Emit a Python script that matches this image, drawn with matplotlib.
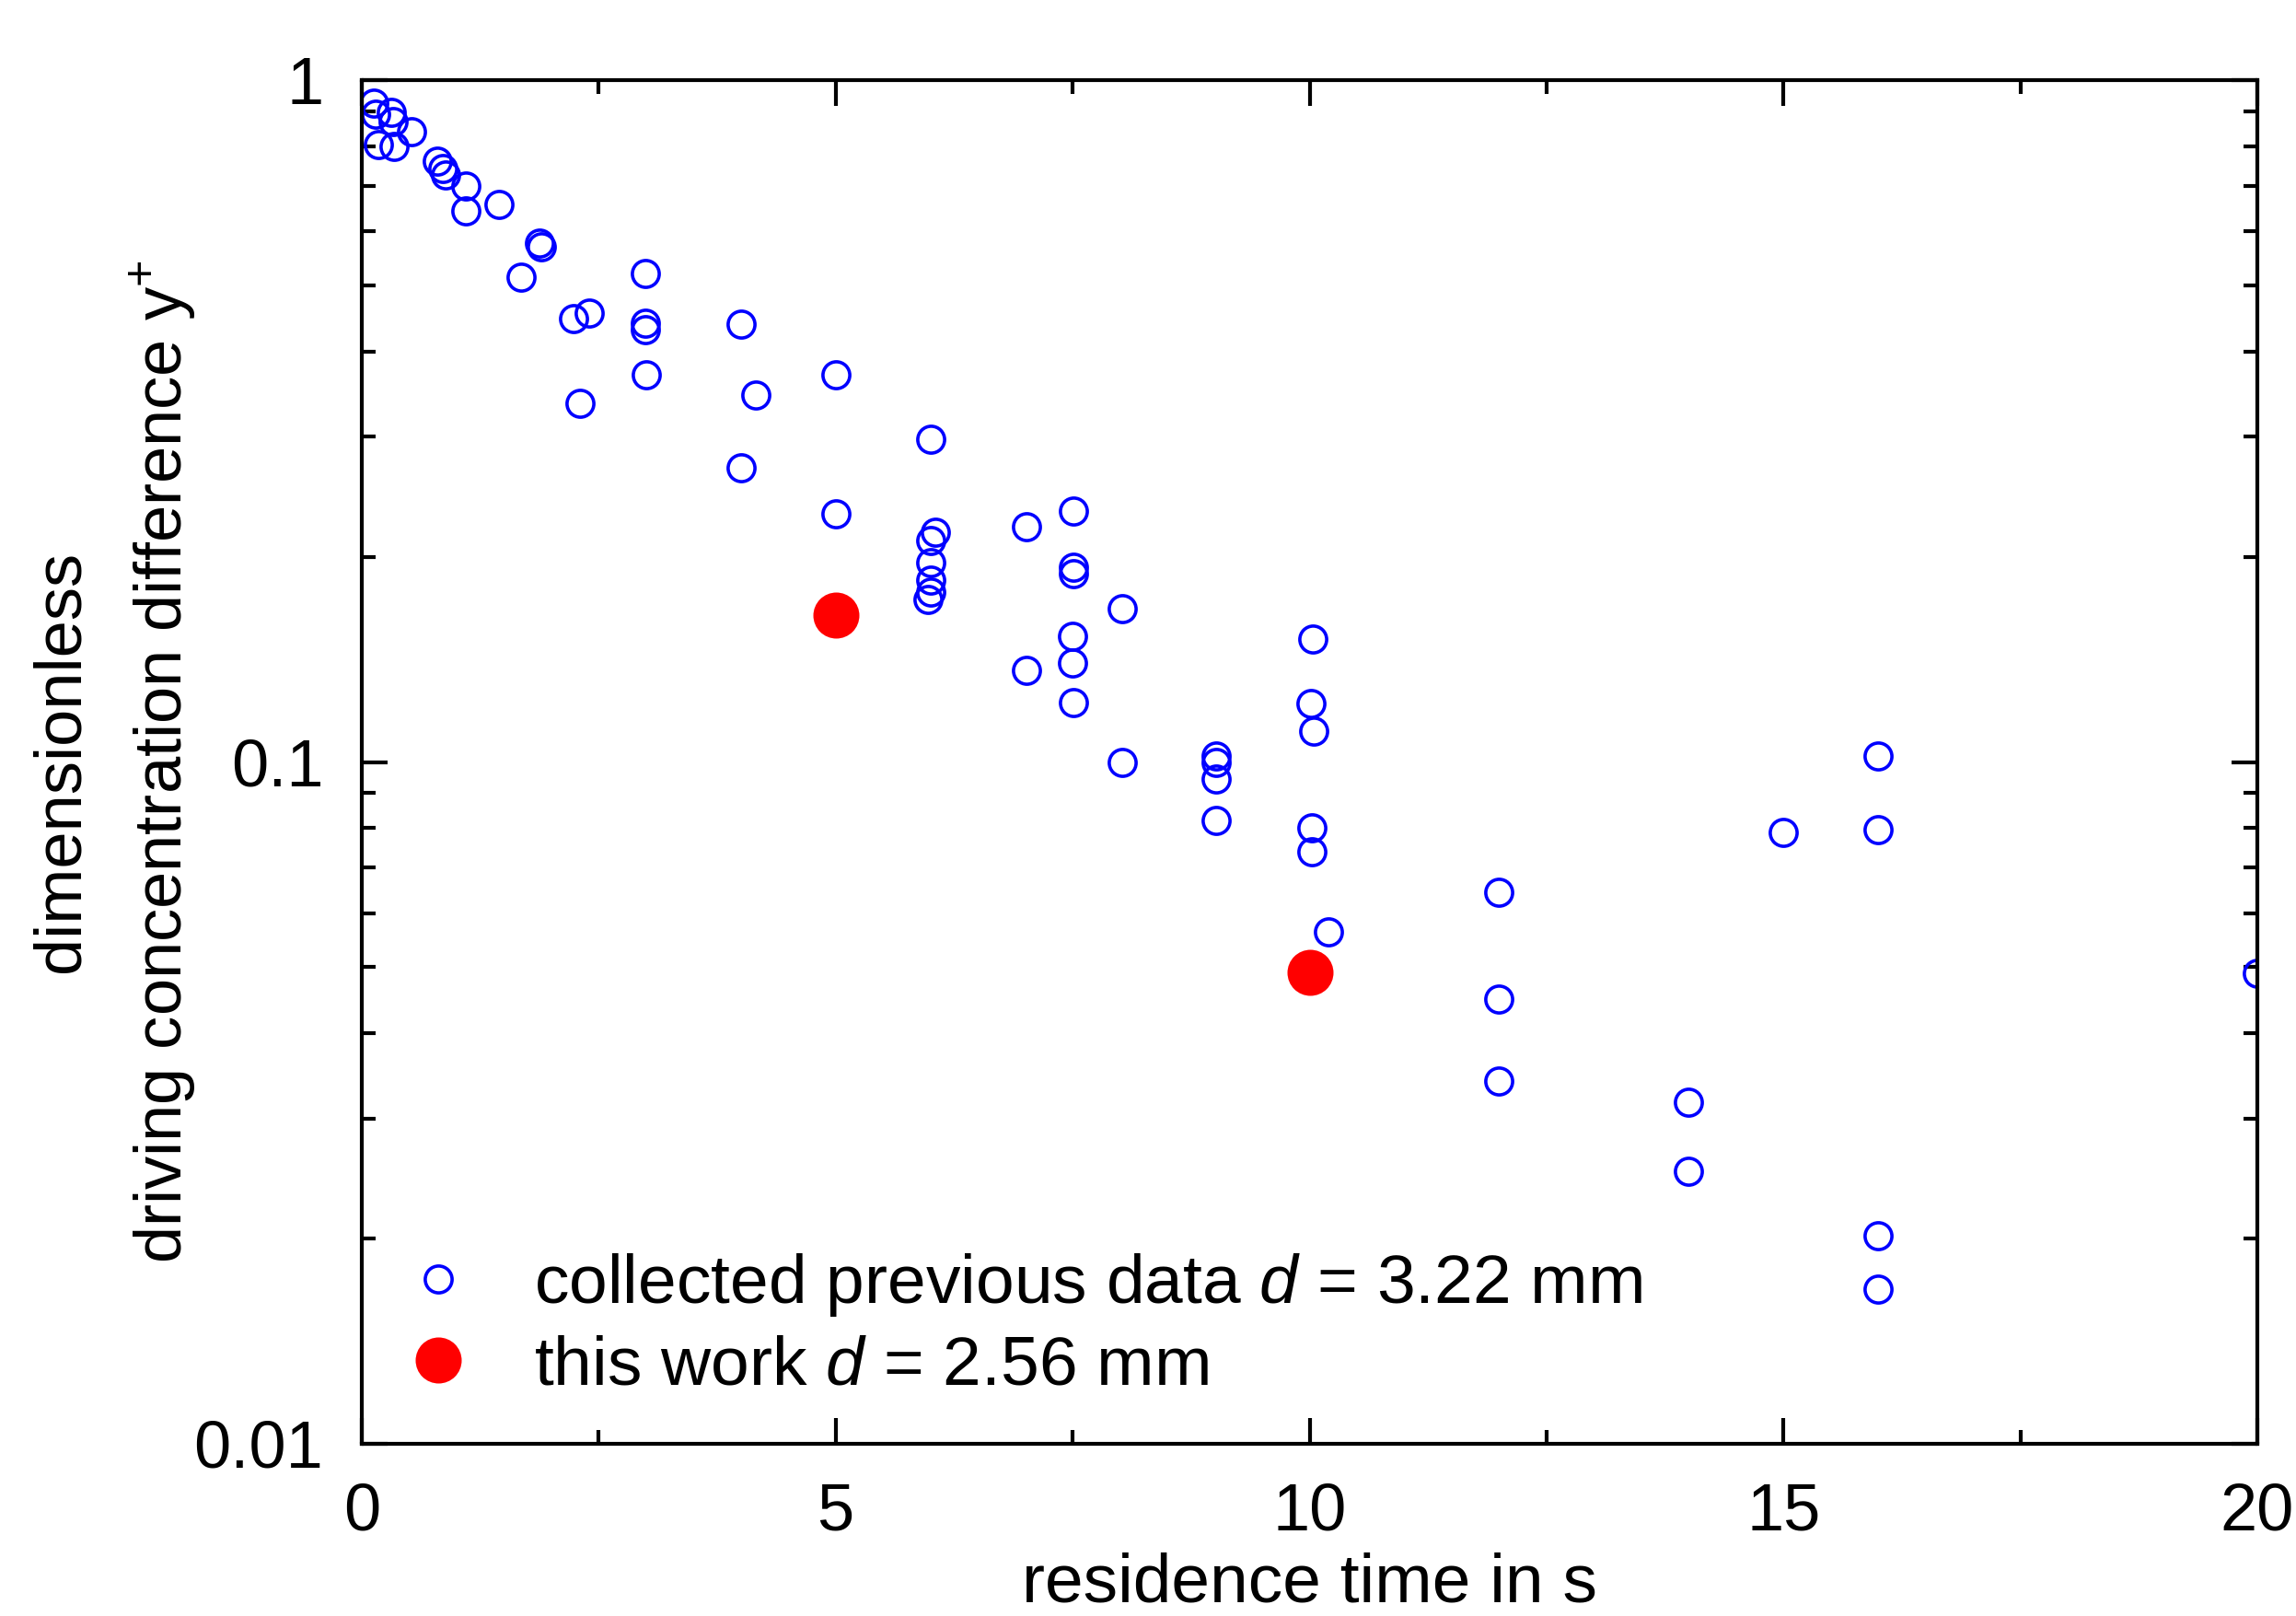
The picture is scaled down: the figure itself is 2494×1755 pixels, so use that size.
import matplotlib
matplotlib.use("Agg")
import matplotlib.pyplot as plt
from matplotlib.ticker import FixedLocator, LogLocator, NullFormatter, MultipleLocator

plt.rcParams['font.family'] = ['Liberation Sans', 'DejaVu Sans']
plt.rcParams['mathtext.fontset'] = 'custom'
plt.rcParams['mathtext.rm'] = 'Liberation Sans'
plt.rcParams['mathtext.it'] = 'Liberation Sans:italic'

# collected previous data, d = 3.22 mm
prev_t = [0.13, 0.15, 0.31, 0.33, 0.52, 0.17, 0.34, 0.80, 0.85, 0.88, 1.10, 1.10,
          1.45, 1.87, 1.89, 1.68, 2.23, 2.40, 2.99, 2.99, 2.99, 3.00, 2.30, 4.00,
          4.16, 4.00, 5.00, 5.00, 6.00, 6.05, 6.00, 6.00, 6.00, 6.00, 5.97, 7.01,
          7.51, 7.51, 7.51, 8.02, 7.50, 7.50, 7.01, 7.51, 8.02, 9.01, 9.01, 9.01,
          9.01, 10.03, 10.01, 10.04, 10.02, 10.02, 10.20, 12.0, 12.0, 12.0, 14.0,
          14.0, 15.0, 16.0, 16.0, 16.0, 16.0, 20.0]
prev_y = [0.925, 0.89, 0.898, 0.87, 0.84, 0.805, 0.80, 0.76, 0.741, 0.726, 0.70, 0.643,
          0.657, 0.577, 0.57, 0.514, 0.447, 0.456, 0.52, 0.44, 0.43, 0.37, 0.336, 0.438,
          0.345, 0.270, 0.37, 0.231, 0.297, 0.2175, 0.211, 0.196, 0.185, 0.1775, 0.173, 0.2215,
          0.233, 0.193, 0.189, 0.168, 0.1527, 0.1397, 0.1363, 0.1223, 0.0997, 0.1022, 0.100, 0.0945,
          0.082, 0.1514, 0.122, 0.111, 0.080, 0.0738, 0.0564, 0.0645, 0.0449, 0.034, 0.0317,
          0.0251, 0.0788, 0.102, 0.0796, 0.0202, 0.01686, 0.049]

# this work, d = 2.56 mm
this_t = [5.0, 10.0]
this_y = [0.164, 0.0492]

x_ticks = [0, 5, 10, 15, 20]
y_ticks = [0.01, 0.1, 1]
y_ticklabels = ['0.01', '0.1', '1']

fig = plt.figure(figsize=(24.94, 17.55), dpi=100)
ax = fig.add_axes([393/2494, 1 - 1568/1755, (2452-393)/2494, (1568-87)/1755])

ax.plot(prev_t, prev_y, linestyle='none', marker='o', markersize=21,
        markerfacecolor='none', markeredgecolor='#0000ff', markeredgewidth=2.6,
        label='collected previous data $d$ = 3.22 mm')
ax.plot(this_t, this_y, linestyle='none', marker='o', markersize=36,
        markerfacecolor='#ff0000', markeredgecolor='none',
        label='this work $d$ = 2.56 mm')

ax.set_yscale('log')
ax.set_xlim(0, 20)
ax.set_ylim(0.01, 1)
ax.xaxis.set_major_locator(FixedLocator(x_ticks))
ax.xaxis.set_minor_locator(MultipleLocator(2.5))
ax.yaxis.set_major_locator(FixedLocator(y_ticks))
ax.set_yticklabels(y_ticklabels)
ax.yaxis.set_minor_locator(LogLocator(base=10, subs=range(2, 10)))
ax.yaxis.set_minor_formatter(NullFormatter())

for s in ax.spines.values():
    s.set_linewidth(3)
ax.tick_params(which='both', direction='in', top=True, right=True, width=3,
               labelsize=52, pad=30)
ax.tick_params(which='major', length=20)
ax.tick_params(which='minor', length=11)

ax.set_xlabel('residence time in s', fontsize=54, labelpad=6)
yc = 1 - 827/1755
fig.text(67/2494, yc, 'dimensionless', rotation=90, ha='center', va='center', fontsize=52)
fig.text(178/2494, yc, 'driving concentration difference y$^{+}$', rotation=90,
         ha='center', va='center', fontsize=52)

leg = ax.legend(loc='lower left', bbox_to_anchor=(0.0, 0.008), frameon=False,
                fontsize=54, handletextpad=0.8, labelspacing=0.23, borderpad=0,
                handlelength=1.2, borderaxespad=0.5)

fig.savefig('out.png', dpi=100)
